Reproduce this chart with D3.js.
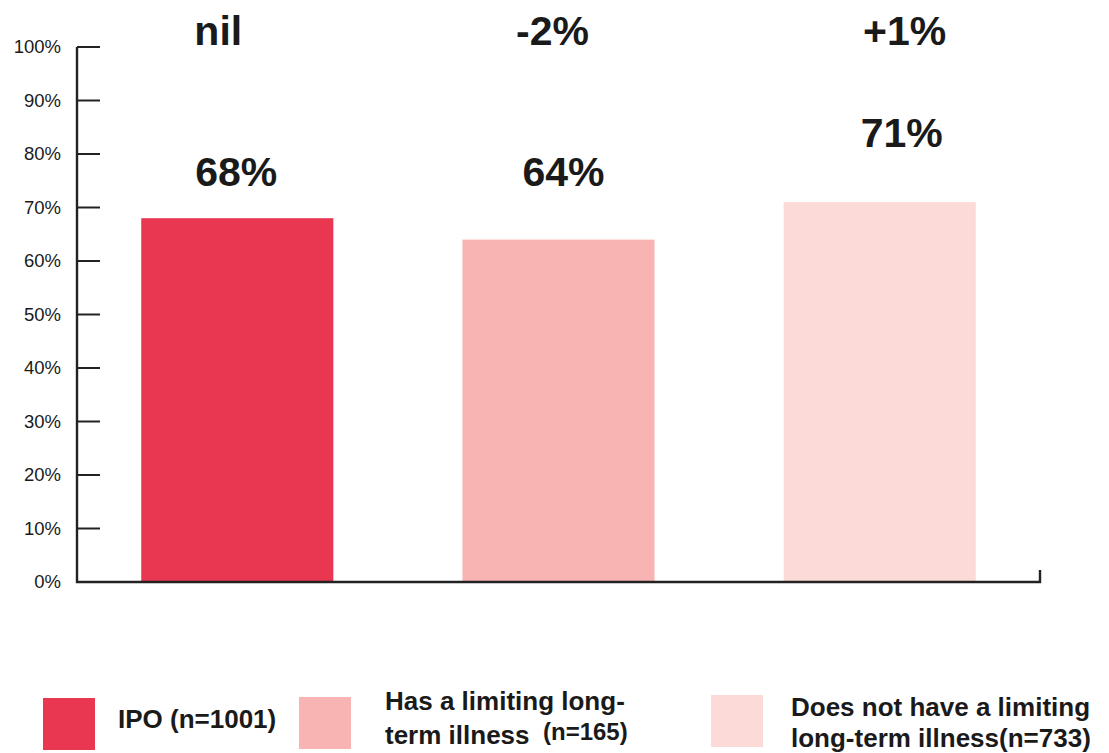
<!DOCTYPE html>
<html>
<head>
<meta charset="utf-8">
<script src="https://cdn.jsdelivr.net/npm/d3@7"></script>
<style>
  html, body { margin: 0; padding: 0; background: #fff; }
  svg { display: block; }
  text { font-family: "Liberation Sans", Arial, Helvetica, sans-serif; fill: #1a1a1a; }
</style>
</head>
<body>
<svg id="chart" width="1109" height="753"></svg>
<script>
// Share of respondents per group
const groups = ["IPO", "Has a limiting long-term illness", "Does not have a limiting long-term illness"];
const values = [68, 64, 71];
const changeLabels = ["nil", "-2%", "+1%"];
const barColors = ["#e93651", "#f7b4b2", "#fcdad7"];
const yTicks = [0, 10, 20, 30, 40, 50, 60, 70, 80, 90, 100];
const legendLines = [
  ["IPO (n=1001)"],
  ["Has a limiting long-", "term illness"],
  ["Does not have a limiting", "long-term illness(n=733)"]
];
const legendSuffix = ["", "(n=165)", ""];

// Layout
const plot = { left: 77, right: 1040, top: 47, bottom: 582 };
// hand-placed nudges for the annotations above each bar
const valueNudge = [{ dx: -1, dy: -32 }, { dx: 5, dy: -54 }, { dx: 22, dy: -55 }];
const changeNudge = [-19, -6, 25];
const changeBaseline = 45;

const svg = d3.select("#chart");

const x = d3.scaleBand()
  .domain(groups)
  .range([plot.left, plot.right])
  .paddingInner(0.402)
  .paddingOuter(0.2);

const y = d3.scaleLinear()
  .domain([0, 100])
  .range([plot.bottom, plot.top]);

// Bars
svg.append("g")
  .selectAll("rect")
  .data(values)
  .join("rect")
  .attr("x", (d, i) => x(groups[i]))
  .attr("y", d => y(d))
  .attr("width", x.bandwidth())
  .attr("height", d => y(0) - y(d))
  .attr("fill", (d, i) => barColors[i]);

// Y axis
const yAxis = d3.axisLeft(y)
  .tickValues(yTicks)
  .tickFormat(d => d + "%")
  .tickSize(0)
  .tickPadding(16);

const gy = svg.append("g")
  .attr("transform", `translate(${plot.left},0)`)
  .call(yAxis);
gy.select(".domain").remove();
gy.selectAll("text")
  .attr("font-size", 18.5)
  .attr("fill", "#1a1a1a")
  .style("font-family", "'Liberation Sans', Arial, sans-serif");

// tick marks pointing into the plot
svg.append("g")
  .selectAll("line")
  .data(yTicks.filter(t => t > 0))
  .join("line")
  .attr("x1", plot.left)
  .attr("x2", plot.left + 23)
  .attr("y1", d => y(d))
  .attr("y2", d => y(d))
  .attr("stroke", "#222")
  .attr("stroke-width", 2);

// Axis frame: vertical axis, baseline and the closing tick on the right
svg.append("path")
  .attr("d", `M${plot.left},${y(100)}V${y(0)}H${plot.right}V${y(0) - 12}`)
  .attr("fill", "none")
  .attr("stroke", "#222")
  .attr("stroke-width", 2.4);

// Value labels
svg.append("g")
  .selectAll("text")
  .data(values)
  .join("text")
  .attr("x", (d, i) => x(groups[i]) + x.bandwidth() / 2 + valueNudge[i].dx)
  .attr("y", (d, i) => y(d) + valueNudge[i].dy)
  .attr("text-anchor", "middle")
  .attr("font-size", 41)
  .attr("font-weight", "bold")
  .text(d => d + "%");

// Change labels along the top
svg.append("g")
  .selectAll("text")
  .data(changeLabels)
  .join("text")
  .attr("x", (d, i) => x(groups[i]) + x.bandwidth() / 2 + changeNudge[i])
  .attr("y", changeBaseline)
  .attr("text-anchor", "middle")
  .attr("font-size", 41)
  .attr("font-weight", "bold")
  .text(d => d);

// Legend
const legendItems = [
  { sx: 43, sy: 698, tx: 118, lines: [728] },
  { sx: 299, sy: 697, tx: 385, lines: [710, 744], suffix: { x: 543, y: 740 } },
  { sx: 711, sy: 695, tx: 791, lines: [716, 747] }
];
const legend = svg.append("g");
legendItems.forEach((it, i) => {
  legend.append("rect")
    .attr("x", it.sx).attr("y", it.sy)
    .attr("width", 52).attr("height", 52)
    .attr("fill", barColors[i]);
  legendLines[i].forEach((line, j) => {
    legend.append("text")
      .attr("x", it.tx).attr("y", it.lines[j])
      .attr("font-size", 26).attr("font-weight", "bold")
      .text(line);
  });
  if (legendSuffix[i]) {
    legend.append("text")
      .attr("x", it.suffix.x).attr("y", it.suffix.y)
      .attr("font-size", 24).attr("font-weight", "bold")
      .text(legendSuffix[i]);
  }
});
</script>
</body>
</html>
